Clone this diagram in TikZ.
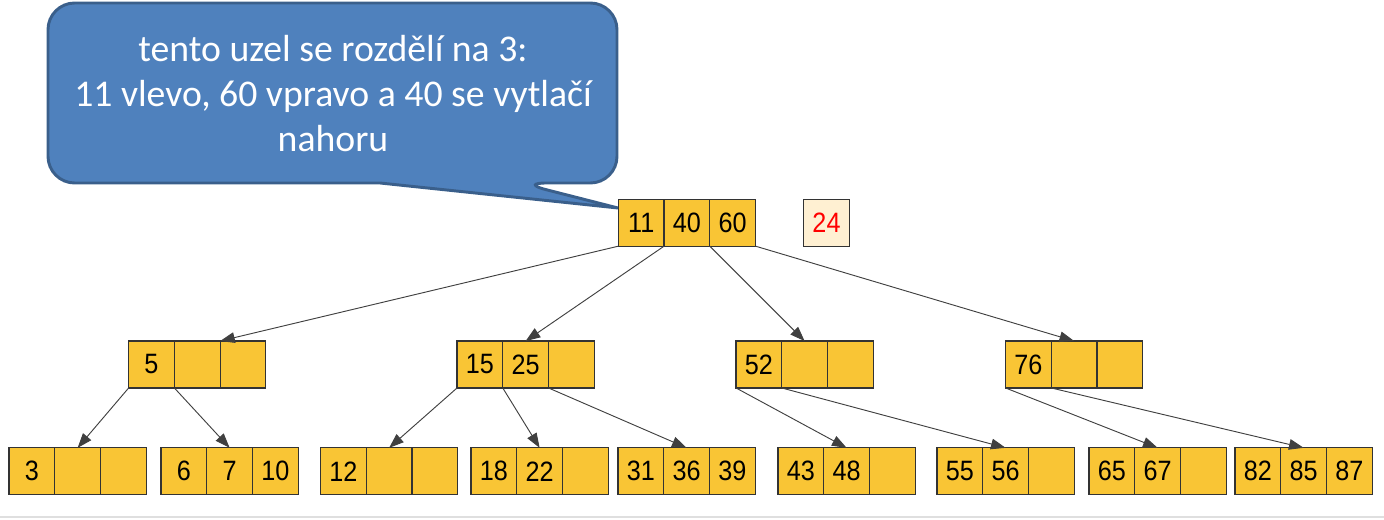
\documentclass[tikz,border=0pt]{standalone}
\usepackage{fontspec}
\setmainfont{Liberation Sans}
\newfontfamily\cellfont[FakeStretch=0.9]{Liberation Sans}
\newfontfamily\calloutfont{Carlito}
\usepackage{tikz}
\usetikzlibrary{arrows.meta,positioning}
\definecolor{cellyellow}{HTML}{F9C535}
\definecolor{newkey}{HTML}{FFF0D2}
\definecolor{calloutblue}{HTML}{4F81BD}
\definecolor{calloutline}{HTML}{3A5F8B}
\tikzstyle{cell}=[rectangle, draw=black!80, line width=0.9pt, fill=cellyellow, minimum width=34.3pt, minimum height=35.2pt, inner sep=0pt, outer sep=0pt, font=\cellfont\fontsize{21}{24}\selectfont]
\tikzset{edge/.style={draw=black!75, line width=0.7pt, -{Triangle[length=11pt,width=8pt]}}}
\tikzset{callout/.style={fill=calloutblue, draw=calloutline, line width=2.2pt}}
\newcommand{\bnode}[6]{%
    \node[cell] (#1-a) at (#2,#3) {#4};
    \node[cell, right=0pt of #1-a] (#1-b) {#5};
    \node[cell, right=0pt of #1-b] (#1-c) {#6};}

\begin{document}
\begin{tikzpicture}[x=0.75pt,y=-0.75pt]
    \useasboundingbox (0,0) rectangle (1384,520);
    \draw[gray!25, line width=1.5pt] (0,517) -- (1384,517);

    \draw[callout] (618,208) -- (380,183) [rounded corners=20] -- (48,183) -- (48,3) -- (617,3) -- (617,183) -- (520,183) [sharp corners] -- cycle;
    \node[text=white, align=center, font=\calloutfont\fontsize{28.3}{33.75}\selectfont] (note) at (333,94) {tento uzel se rozdělí na 3:\\11 vlevo, 60 vpravo a 40 se vytlačí\\nahoru};

    \bnode{root}{641.2}{222.7}{11}{40}{60}
    \node[cell, fill=newkey, text=red] (new) at (826.5,222.7) {24};

    \bnode{n5}{151.5}{364.5}{5}{}{}
    \bnode{n15}{479.9}{364.5}{15}{25}{}
    \bnode{n52}{758.9}{364.5}{52}{}{}
    \bnode{n76}{1028.4}{364.5}{76}{}{}

    \bnode{n3}{31.9}{471.3}{3}{}{}
    \bnode{n6}{183.9}{471.3}{6}{7}{10}
    \bnode{n12}{343.4}{471.3}{12}{}{}
    \bnode{n18}{493.9}{471.3}{18}{22}{}
    \bnode{n31}{640.9}{471.3}{31}{36}{39}
    \bnode{n43}{800.9}{471.3}{43}{48}{}
    \bnode{n55}{959.9}{471.3}{55}{56}{}
    \bnode{n65}{1111.9}{471.3}{65}{67}{}
    \bnode{n82}{1257.9}{471.3}{82}{85}{87}

    \draw[edge] (root-a.south west) -- (n5-b.north east);
    \draw[edge] (root-a.south east) -- (n15-b.north);
    \draw[edge] (root-b.south east) -- (n52-b.north);
    \draw[edge] (root-c.south east) -- (n76-b.north);

    \draw[edge] (n5-a.south west) -- (n3-b.north);
    \draw[edge] (n5-a.south east) -- (n6-b.north);
    \draw[edge] (n15-a.south west) -- (n12-b.north);
    \draw[edge] (n15-a.south east) -- (n18-b.north);
    \draw[edge] (n15-b.south east) -- (n31-b.north);
    \draw[edge] (n52-a.south west) -- (n43-b.north);
    \draw[edge] (n52-a.south east) -- (n55-b.north);
    \draw[edge] (n76-a.south west) -- (n65-b.north);
    \draw[edge] (n76-a.south east) -- (n82-b.north);
\end{tikzpicture}
\end{document}
